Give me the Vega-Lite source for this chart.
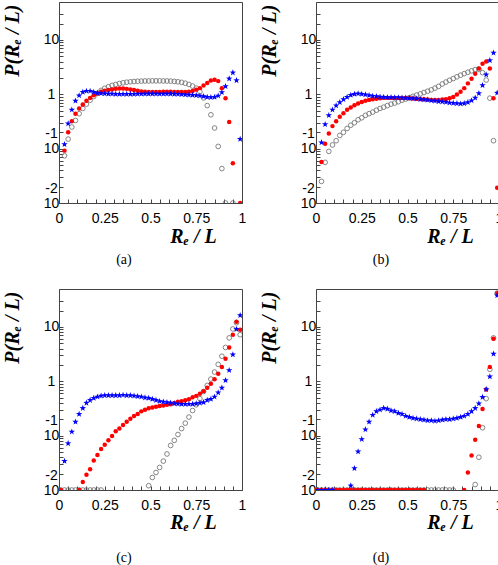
{
"$schema": "https://vega.github.io/schema/vega-lite/v6.json",
"padding": {"left": 1, "top": 1, "right": 0, "bottom": 0},
"columns": 2,
"spacing": {"column": 74, "row": 86},
"bounds": "flush",
"config": {
  "view": {"stroke": "#444", "strokeWidth": 1},
  "axis": {"labelFont": "Liberation Sans", "labelFontSize": 14, "labelColor": "#000", "domainColor": "#444", "tickColor": "#444", "grid": false,
    "titleFont": "Liberation Serif", "titleFontSize": 20, "titleFontWeight": "bold", "titleFontStyle": "italic", "titleColor": "#000",
    "labelOverlap": false, "labelFlush": false, "labelBound": false, "tickSize": -4},
  "title": {"font": "Liberation Serif", "fontSize": 14, "fontWeight": "normal", "color": "#000", "orient": "bottom", "anchor": "middle", "frame": "bounds"}
},
"datasets": {
"ag": [{"x":0.03,"p":0.074},{"x":0.05,"p":0.15},{"x":0.07,"p":0.25},{"x":0.09,"p":0.33},{"x":0.11,"p":0.44},{"x":0.13,"p":0.55},{"x":0.15,"p":0.66},{"x":0.17,"p":0.78},{"x":0.19,"p":0.91},{"x":0.21,"p":1.04},{"x":0.23,"p":1.18},{"x":0.25,"p":1.29},{"x":0.27,"p":1.38},{"x":0.29,"p":1.46},{"x":0.31,"p":1.52},{"x":0.33,"p":1.58},{"x":0.35,"p":1.63},{"x":0.37,"p":1.67},{"x":0.39,"p":1.7},{"x":0.41,"p":1.72},{"x":0.43,"p":1.74},{"x":0.45,"p":1.75},{"x":0.47,"p":1.76},{"x":0.49,"p":1.76},{"x":0.51,"p":1.77},{"x":0.53,"p":1.77},{"x":0.55,"p":1.77},{"x":0.57,"p":1.76},{"x":0.59,"p":1.76},{"x":0.61,"p":1.75},{"x":0.63,"p":1.73},{"x":0.65,"p":1.7},{"x":0.67,"p":1.66},{"x":0.69,"p":1.6},{"x":0.71,"p":1.52},{"x":0.73,"p":1.42},{"x":0.75,"p":1.3},{"x":0.77,"p":1.12},{"x":0.79,"p":0.86},{"x":0.81,"p":0.62},{"x":0.83,"p":0.42},{"x":0.85,"p":0.24},{"x":0.87,"p":0.11},{"x":0.89,"p":0.043},{"x":0.91,"p":0.01},{"x":0.95,"p":0.01}],
"ar": [{"x":0.03,"p":0.092},{"x":0.05,"p":0.2},{"x":0.07,"p":0.32},{"x":0.09,"p":0.44},{"x":0.11,"p":0.55},{"x":0.13,"p":0.65},{"x":0.15,"p":0.76},{"x":0.17,"p":0.86},{"x":0.19,"p":0.96},{"x":0.21,"p":1.04},{"x":0.23,"p":1.12},{"x":0.25,"p":1.17},{"x":0.27,"p":1.2},{"x":0.29,"p":1.23},{"x":0.31,"p":1.26},{"x":0.33,"p":1.28},{"x":0.35,"p":1.28},{"x":0.37,"p":1.26},{"x":0.39,"p":1.23},{"x":0.41,"p":1.2},{"x":0.43,"p":1.16},{"x":0.45,"p":1.13},{"x":0.47,"p":1.11},{"x":0.49,"p":1.1},{"x":0.51,"p":1.1},{"x":0.53,"p":1.1},{"x":0.55,"p":1.1},{"x":0.57,"p":1.11},{"x":0.59,"p":1.11},{"x":0.61,"p":1.11},{"x":0.63,"p":1.1},{"x":0.65,"p":1.1},{"x":0.67,"p":1.1},{"x":0.69,"p":1.1},{"x":0.71,"p":1.12},{"x":0.73,"p":1.15},{"x":0.75,"p":1.22},{"x":0.77,"p":1.3},{"x":0.79,"p":1.46},{"x":0.81,"p":1.61},{"x":0.83,"p":1.8},{"x":0.85,"p":1.85},{"x":0.87,"p":1.75},{"x":0.89,"p":1.3},{"x":0.91,"p":0.85},{"x":0.93,"p":0.31},{"x":0.95,"p":0.054},{"x":0.99,"p":0.01}],
"ab": [{"x":0.03,"p":0.12},{"x":0.05,"p":0.29},{"x":0.07,"p":0.52},{"x":0.09,"p":0.76},{"x":0.11,"p":0.95},{"x":0.13,"p":1.1},{"x":0.15,"p":1.15},{"x":0.17,"p":1.15},{"x":0.19,"p":1.1},{"x":0.21,"p":1.06},{"x":0.23,"p":1.04},{"x":0.25,"p":1.03},{"x":0.27,"p":1.02},{"x":0.29,"p":1.02},{"x":0.31,"p":1.01},{"x":0.33,"p":1.01},{"x":0.35,"p":1.01},{"x":0.37,"p":1.01},{"x":0.39,"p":1.01},{"x":0.41,"p":1.01},{"x":0.43,"p":1.02},{"x":0.45,"p":1.02},{"x":0.47,"p":1.02},{"x":0.49,"p":1.02},{"x":0.51,"p":1.02},{"x":0.53,"p":1.02},{"x":0.55,"p":1.02},{"x":0.57,"p":1.02},{"x":0.59,"p":1.02},{"x":0.61,"p":1.02},{"x":0.63,"p":1.01},{"x":0.65,"p":1.01},{"x":0.67,"p":1.0},{"x":0.69,"p":0.99},{"x":0.71,"p":0.98},{"x":0.73,"p":0.97},{"x":0.75,"p":0.96},{"x":0.77,"p":0.94},{"x":0.79,"p":0.92},{"x":0.81,"p":0.89},{"x":0.83,"p":0.88},{"x":0.85,"p":0.89},{"x":0.87,"p":0.94},{"x":0.89,"p":1.09},{"x":0.91,"p":1.4},{"x":0.93,"p":1.94},{"x":0.95,"p":2.5},{"x":0.97,"p":1.8},{"x":0.99,"p":0.15}],
"bg": [{"x":0.03,"p":0.025},{"x":0.05,"p":0.056},{"x":0.07,"p":0.089},{"x":0.09,"p":0.117},{"x":0.11,"p":0.14},{"x":0.13,"p":0.175},{"x":0.15,"p":0.2},{"x":0.17,"p":0.235},{"x":0.19,"p":0.27},{"x":0.21,"p":0.3},{"x":0.23,"p":0.34},{"x":0.25,"p":0.37},{"x":0.27,"p":0.41},{"x":0.29,"p":0.44},{"x":0.31,"p":0.47},{"x":0.33,"p":0.51},{"x":0.35,"p":0.55},{"x":0.37,"p":0.58},{"x":0.39,"p":0.62},{"x":0.41,"p":0.66},{"x":0.43,"p":0.69},{"x":0.45,"p":0.73},{"x":0.47,"p":0.78},{"x":0.49,"p":0.82},{"x":0.51,"p":0.87},{"x":0.53,"p":0.92},{"x":0.55,"p":0.97},{"x":0.57,"p":1.02},{"x":0.59,"p":1.08},{"x":0.61,"p":1.14},{"x":0.63,"p":1.21},{"x":0.65,"p":1.3},{"x":0.67,"p":1.4},{"x":0.69,"p":1.55},{"x":0.71,"p":1.68},{"x":0.73,"p":1.82},{"x":0.75,"p":1.95},{"x":0.77,"p":2.1},{"x":0.79,"p":2.25},{"x":0.81,"p":2.4},{"x":0.83,"p":2.55},{"x":0.85,"p":2.7},{"x":0.87,"p":2.85},{"x":0.89,"p":2.9},{"x":0.91,"p":2.5},{"x":0.93,"p":1.83},{"x":0.95,"p":0.85},{"x":0.97,"p":0.14}],
"br": [{"x":0.03,"p":0.057},{"x":0.05,"p":0.123},{"x":0.07,"p":0.19},{"x":0.09,"p":0.26},{"x":0.11,"p":0.32},{"x":0.13,"p":0.385},{"x":0.15,"p":0.45},{"x":0.17,"p":0.52},{"x":0.19,"p":0.57},{"x":0.21,"p":0.63},{"x":0.23,"p":0.68},{"x":0.25,"p":0.72},{"x":0.27,"p":0.76},{"x":0.29,"p":0.79},{"x":0.31,"p":0.81},{"x":0.33,"p":0.83},{"x":0.35,"p":0.85},{"x":0.37,"p":0.86},{"x":0.39,"p":0.86},{"x":0.41,"p":0.86},{"x":0.43,"p":0.86},{"x":0.45,"p":0.86},{"x":0.47,"p":0.86},{"x":0.49,"p":0.86},{"x":0.51,"p":0.85},{"x":0.53,"p":0.84},{"x":0.55,"p":0.83},{"x":0.57,"p":0.82},{"x":0.59,"p":0.81},{"x":0.61,"p":0.8},{"x":0.63,"p":0.79},{"x":0.65,"p":0.79},{"x":0.67,"p":0.79},{"x":0.69,"p":0.8},{"x":0.71,"p":0.81},{"x":0.73,"p":0.85},{"x":0.75,"p":0.89},{"x":0.77,"p":0.99},{"x":0.79,"p":1.12},{"x":0.81,"p":1.3},{"x":0.83,"p":1.59},{"x":0.85,"p":1.94},{"x":0.87,"p":2.4},{"x":0.89,"p":3.0},{"x":0.91,"p":3.65},{"x":0.93,"p":4.0},{"x":0.95,"p":3.0},{"x":0.97,"p":0.85},{"x":0.99,"p":0.019}],
"bb": [{"x":0.03,"p":0.13},{"x":0.05,"p":0.28},{"x":0.07,"p":0.41},{"x":0.09,"p":0.52},{"x":0.11,"p":0.62},{"x":0.13,"p":0.71},{"x":0.15,"p":0.81},{"x":0.17,"p":0.89},{"x":0.19,"p":0.97},{"x":0.21,"p":1.01},{"x":0.23,"p":1.03},{"x":0.25,"p":1.01},{"x":0.27,"p":0.99},{"x":0.29,"p":0.96},{"x":0.31,"p":0.93},{"x":0.33,"p":0.92},{"x":0.35,"p":0.9},{"x":0.37,"p":0.89},{"x":0.39,"p":0.88},{"x":0.41,"p":0.88},{"x":0.43,"p":0.87},{"x":0.45,"p":0.87},{"x":0.47,"p":0.86},{"x":0.49,"p":0.86},{"x":0.51,"p":0.85},{"x":0.53,"p":0.84},{"x":0.55,"p":0.83},{"x":0.57,"p":0.81},{"x":0.59,"p":0.8},{"x":0.61,"p":0.79},{"x":0.63,"p":0.77},{"x":0.65,"p":0.76},{"x":0.67,"p":0.74},{"x":0.69,"p":0.73},{"x":0.71,"p":0.72},{"x":0.73,"p":0.7},{"x":0.75,"p":0.69},{"x":0.77,"p":0.68},{"x":0.79,"p":0.67},{"x":0.81,"p":0.68},{"x":0.83,"p":0.71},{"x":0.85,"p":0.77},{"x":0.87,"p":0.86},{"x":0.89,"p":1.04},{"x":0.91,"p":1.46},{"x":0.93,"p":2.3},{"x":0.95,"p":4.2},{"x":0.97,"p":5.8},{"x":0.99,"p":1.06}],
"cg": [{"x":0.01,"p":0.01},{"x":0.03,"p":0.01},{"x":0.05,"p":0.01},{"x":0.07,"p":0.01},{"x":0.09,"p":0.01},{"x":0.11,"p":0.01},{"x":0.13,"p":0.01},{"x":0.15,"p":0.01},{"x":0.17,"p":0.01},{"x":0.19,"p":0.01},{"x":0.21,"p":0.01},{"x":0.23,"p":0.01},{"x":0.49,"p":0.012},{"x":0.51,"p":0.017},{"x":0.53,"p":0.021},{"x":0.55,"p":0.026},{"x":0.57,"p":0.034},{"x":0.59,"p":0.046},{"x":0.61,"p":0.066},{"x":0.63,"p":0.082},{"x":0.65,"p":0.105},{"x":0.67,"p":0.135},{"x":0.69,"p":0.17},{"x":0.71,"p":0.22},{"x":0.73,"p":0.29},{"x":0.75,"p":0.37},{"x":0.77,"p":0.48},{"x":0.79,"p":0.65},{"x":0.81,"p":0.84},{"x":0.83,"p":1.1},{"x":0.85,"p":1.48},{"x":0.87,"p":2.05},{"x":0.89,"p":2.9},{"x":0.91,"p":4.2},{"x":0.93,"p":6.3},{"x":0.95,"p":9.2},{"x":0.97,"p":12},{"x":0.99,"p":7.2}],
"cr": [{"x":0.01,"p":0.01},{"x":0.11,"p":0.01},{"x":0.13,"p":0.014},{"x":0.15,"p":0.019},{"x":0.17,"p":0.024},{"x":0.19,"p":0.035},{"x":0.21,"p":0.044},{"x":0.23,"p":0.057},{"x":0.25,"p":0.068},{"x":0.27,"p":0.082},{"x":0.29,"p":0.099},{"x":0.31,"p":0.12},{"x":0.33,"p":0.136},{"x":0.35,"p":0.157},{"x":0.37,"p":0.18},{"x":0.39,"p":0.205},{"x":0.41,"p":0.23},{"x":0.43,"p":0.25},{"x":0.45,"p":0.28},{"x":0.47,"p":0.3},{"x":0.49,"p":0.32},{"x":0.51,"p":0.33},{"x":0.53,"p":0.34},{"x":0.55,"p":0.35},{"x":0.57,"p":0.36},{"x":0.59,"p":0.37},{"x":0.61,"p":0.38},{"x":0.63,"p":0.4},{"x":0.65,"p":0.42},{"x":0.67,"p":0.43},{"x":0.69,"p":0.45},{"x":0.71,"p":0.47},{"x":0.73,"p":0.51},{"x":0.75,"p":0.54},{"x":0.77,"p":0.59},{"x":0.79,"p":0.66},{"x":0.81,"p":0.76},{"x":0.83,"p":0.9},{"x":0.85,"p":1.09},{"x":0.87,"p":1.38},{"x":0.89,"p":1.83},{"x":0.91,"p":2.6},{"x":0.93,"p":4.2},{"x":0.95,"p":7.2},{"x":0.97,"p":12.5},{"x":0.99,"p":8.9}],
"cb": [{"x":0.03,"p":0.034},{"x":0.05,"p":0.072},{"x":0.07,"p":0.118},{"x":0.09,"p":0.18},{"x":0.11,"p":0.25},{"x":0.13,"p":0.32},{"x":0.15,"p":0.4},{"x":0.17,"p":0.45},{"x":0.19,"p":0.49},{"x":0.21,"p":0.52},{"x":0.23,"p":0.54},{"x":0.25,"p":0.55},{"x":0.27,"p":0.55},{"x":0.29,"p":0.55},{"x":0.31,"p":0.55},{"x":0.33,"p":0.55},{"x":0.35,"p":0.56},{"x":0.37,"p":0.55},{"x":0.39,"p":0.55},{"x":0.41,"p":0.54},{"x":0.43,"p":0.53},{"x":0.45,"p":0.52},{"x":0.47,"p":0.5},{"x":0.49,"p":0.49},{"x":0.51,"p":0.47},{"x":0.53,"p":0.45},{"x":0.55,"p":0.43},{"x":0.57,"p":0.42},{"x":0.59,"p":0.41},{"x":0.61,"p":0.4},{"x":0.63,"p":0.39},{"x":0.65,"p":0.385},{"x":0.67,"p":0.38},{"x":0.69,"p":0.38},{"x":0.71,"p":0.38},{"x":0.73,"p":0.38},{"x":0.75,"p":0.39},{"x":0.77,"p":0.4},{"x":0.79,"p":0.41},{"x":0.81,"p":0.45},{"x":0.83,"p":0.47},{"x":0.85,"p":0.52},{"x":0.87,"p":0.62},{"x":0.89,"p":0.76},{"x":0.91,"p":1.04},{"x":0.93,"p":1.6},{"x":0.95,"p":3.1},{"x":0.97,"p":9.1},{"x":0.99,"p":16.4}],
"dg": [{"x":0.01,"p":0.01},{"x":0.03,"p":0.01},{"x":0.05,"p":0.01},{"x":0.07,"p":0.01},{"x":0.09,"p":0.01},{"x":0.11,"p":0.01},{"x":0.13,"p":0.01},{"x":0.15,"p":0.01},{"x":0.17,"p":0.01},{"x":0.19,"p":0.01},{"x":0.21,"p":0.01},{"x":0.23,"p":0.01},{"x":0.25,"p":0.01},{"x":0.27,"p":0.01},{"x":0.29,"p":0.01},{"x":0.31,"p":0.01},{"x":0.33,"p":0.01},{"x":0.35,"p":0.01},{"x":0.37,"p":0.01},{"x":0.39,"p":0.01},{"x":0.41,"p":0.01},{"x":0.43,"p":0.01},{"x":0.45,"p":0.01},{"x":0.47,"p":0.01},{"x":0.49,"p":0.01},{"x":0.51,"p":0.01},{"x":0.53,"p":0.01},{"x":0.55,"p":0.01},{"x":0.57,"p":0.01},{"x":0.59,"p":0.01},{"x":0.61,"p":0.01},{"x":0.63,"p":0.01},{"x":0.65,"p":0.01},{"x":0.67,"p":0.01},{"x":0.69,"p":0.01},{"x":0.71,"p":0.01},{"x":0.73,"p":0.01},{"x":0.75,"p":0.01},{"x":0.87,"p":0.0126},{"x":0.89,"p":0.04},{"x":0.91,"p":0.14},{"x":0.93,"p":0.48},{"x":0.95,"p":1.66},{"x":0.97,"p":6.3},{"x":0.99,"p":42}],
"dr": [{"x":0.01,"p":0.01},{"x":0.03,"p":0.01},{"x":0.05,"p":0.01},{"x":0.07,"p":0.01},{"x":0.09,"p":0.01},{"x":0.11,"p":0.01},{"x":0.13,"p":0.01},{"x":0.15,"p":0.01},{"x":0.17,"p":0.01},{"x":0.19,"p":0.01},{"x":0.21,"p":0.01},{"x":0.23,"p":0.01},{"x":0.25,"p":0.01},{"x":0.27,"p":0.01},{"x":0.29,"p":0.01},{"x":0.31,"p":0.01},{"x":0.33,"p":0.01},{"x":0.35,"p":0.01},{"x":0.37,"p":0.01},{"x":0.39,"p":0.01},{"x":0.41,"p":0.01},{"x":0.43,"p":0.01},{"x":0.45,"p":0.01},{"x":0.47,"p":0.01},{"x":0.49,"p":0.01},{"x":0.51,"p":0.01},{"x":0.53,"p":0.01},{"x":0.55,"p":0.01},{"x":0.57,"p":0.01},{"x":0.59,"p":0.01},{"x":0.81,"p":0.01},{"x":0.83,"p":0.021},{"x":0.85,"p":0.043},{"x":0.87,"p":0.084},{"x":0.89,"p":0.15},{"x":0.91,"p":0.31},{"x":0.93,"p":0.71},{"x":0.95,"p":1.83},{"x":0.97,"p":6.1},{"x":0.99,"p":42}],
"db": [{"x":0.01,"p":0.01},{"x":0.03,"p":0.01},{"x":0.05,"p":0.01},{"x":0.07,"p":0.01},{"x":0.09,"p":0.01},{"x":0.19,"p":0.012},{"x":0.21,"p":0.025},{"x":0.23,"p":0.051},{"x":0.25,"p":0.086},{"x":0.27,"p":0.13},{"x":0.29,"p":0.18},{"x":0.31,"p":0.24},{"x":0.33,"p":0.28},{"x":0.35,"p":0.3},{"x":0.37,"p":0.32},{"x":0.39,"p":0.31},{"x":0.41,"p":0.29},{"x":0.43,"p":0.28},{"x":0.45,"p":0.26},{"x":0.47,"p":0.25},{"x":0.49,"p":0.23},{"x":0.51,"p":0.22},{"x":0.53,"p":0.21},{"x":0.55,"p":0.205},{"x":0.57,"p":0.2},{"x":0.59,"p":0.195},{"x":0.61,"p":0.19},{"x":0.63,"p":0.19},{"x":0.65,"p":0.186},{"x":0.67,"p":0.19},{"x":0.69,"p":0.195},{"x":0.71,"p":0.2},{"x":0.73,"p":0.2},{"x":0.75,"p":0.205},{"x":0.77,"p":0.21},{"x":0.79,"p":0.22},{"x":0.81,"p":0.23},{"x":0.83,"p":0.25},{"x":0.85,"p":0.28},{"x":0.87,"p":0.32},{"x":0.89,"p":0.39},{"x":0.91,"p":0.51},{"x":0.93,"p":0.71},{"x":0.95,"p":1.22},{"x":0.97,"p":3.2},{"x":0.99,"p":38}]
},
"concat": [
{"width": 183, "height": 201, "title": {"text": "(a)", "offset": 7},
 "encoding": {
  "x": {"field": "x", "type": "quantitative", "scale": {"domain": [0, 1], "nice": false},
    "axis": {"values": [0,0.05,0.1,0.15,0.2,0.25,0.3,0.35,0.4,0.45,0.5,0.55,0.6,0.65,0.7,0.75,0.8,0.85,0.9,0.95,1],
      "labelExpr": "indexof([0,0.25,0.5,0.75,1],datum.value)>=0 ? toString(datum.value) : ''",
      "labelPadding": 12, "labelBaseline": "top", "labelAlign": "center",
      "title": "Rₑ / L", "titleX": 134, "titleY": 33, "titleAlign": "center", "titleBaseline": "middle"}},
  "y": {"field": "p", "type": "quantitative", "scale": {"type": "log", "domain": [0.01, 50], "nice": false},
    "axis": {"values": [0.01,0.02,0.03,0.04,0.05,0.06,0.07,0.08,0.09,0.1,0.2,0.3,0.4,0.5,0.6,0.7,0.8,0.9,1,2,3,4,5,6,7,8,9,10,20,30],
      "labelExpr": "datum.value==10?'10':datum.value==1?'1':datum.value==0.1?['-1','10']:datum.value==0.01?['-2','10']:''",
      "labelOffset": {"condition": {"test": "datum.value==0.1||datum.value==0.01", "value": -15}, "value": 0},
      "labelAlign": "center", "labelBaseline": "middle", "labelPadding": 12, "labelLineHeight": 15,
      "title": "P(Rₑ / L)", "titleX": -47, "titleY": 2, "titleAngle": -90, "titleAlign": "right", "titleBaseline": "middle"}}
 },
 "layer": [
  {"data": {"name": "ag"}, "mark": {"type": "point", "shape": "circle", "filled": false, "stroke": "#777", "strokeWidth": 0.9, "size": 22, "opacity": 1, "clip": true}},
  {"data": {"name": "ar"}, "mark": {"type": "point", "shape": "circle", "filled": true, "color": "#ff0000", "size": 20, "opacity": 1, "clip": true}},
  {"data": {"name": "ab"}, "mark": {"type": "point", "shape": "M0,-1L0.235,-0.324L0.951,-0.309L0.38,0.124L0.588,0.809L0,0.4L-0.588,0.809L-0.38,0.124L-0.951,-0.309L-0.235,-0.324Z", "filled": true, "color": "#0000ff", "size": 45, "opacity": 1, "clip": true}}
 ]
},
{"width": 183, "height": 201, "title": {"text": "(b)", "offset": 7},
 "encoding": {
  "x": {"field": "x", "type": "quantitative", "scale": {"domain": [0, 1], "nice": false},
    "axis": {"values": [0,0.05,0.1,0.15,0.2,0.25,0.3,0.35,0.4,0.45,0.5,0.55,0.6,0.65,0.7,0.75,0.8,0.85,0.9,0.95,1],
      "labelExpr": "indexof([0,0.25,0.5,0.75,1],datum.value)>=0 ? toString(datum.value) : ''",
      "labelPadding": 12, "labelBaseline": "top", "labelAlign": "center",
      "title": "Rₑ / L", "titleX": 134, "titleY": 33, "titleAlign": "center", "titleBaseline": "middle"}},
  "y": {"field": "p", "type": "quantitative", "scale": {"type": "log", "domain": [0.01, 50], "nice": false},
    "axis": {"values": [0.01,0.02,0.03,0.04,0.05,0.06,0.07,0.08,0.09,0.1,0.2,0.3,0.4,0.5,0.6,0.7,0.8,0.9,1,2,3,4,5,6,7,8,9,10,20,30],
      "labelExpr": "datum.value==10?'10':datum.value==1?'1':datum.value==0.1?['-1','10']:datum.value==0.01?['-2','10']:''",
      "labelOffset": {"condition": {"test": "datum.value==0.1||datum.value==0.01", "value": -15}, "value": 0},
      "labelAlign": "center", "labelBaseline": "middle", "labelPadding": 12, "labelLineHeight": 15,
      "title": "P(Rₑ / L)", "titleX": -47, "titleY": 2, "titleAngle": -90, "titleAlign": "right", "titleBaseline": "middle"}}
 },
 "layer": [
  {"data": {"name": "bg"}, "mark": {"type": "point", "shape": "circle", "filled": false, "stroke": "#777", "strokeWidth": 0.9, "size": 22, "opacity": 1, "clip": true}},
  {"data": {"name": "br"}, "mark": {"type": "point", "shape": "circle", "filled": true, "color": "#ff0000", "size": 20, "opacity": 1, "clip": true}},
  {"data": {"name": "bb"}, "mark": {"type": "point", "shape": "M0,-1L0.235,-0.324L0.951,-0.309L0.38,0.124L0.588,0.809L0,0.4L-0.588,0.809L-0.38,0.124L-0.951,-0.309L-0.235,-0.324Z", "filled": true, "color": "#0000ff", "size": 45, "opacity": 1, "clip": true}}
 ]
},
{"width": 183, "height": 201, "title": {"text": "(c)", "offset": 19},
 "encoding": {
  "x": {"field": "x", "type": "quantitative", "scale": {"domain": [0, 1], "nice": false},
    "axis": {"values": [0,0.05,0.1,0.15,0.2,0.25,0.3,0.35,0.4,0.45,0.5,0.55,0.6,0.65,0.7,0.75,0.8,0.85,0.9,0.95,1],
      "labelExpr": "indexof([0,0.25,0.5,0.75,1],datum.value)>=0 ? toString(datum.value) : ''",
      "labelPadding": 12, "labelBaseline": "top", "labelAlign": "center",
      "title": "Rₑ / L", "titleX": 134, "titleY": 32, "titleAlign": "center", "titleBaseline": "middle"}},
  "y": {"field": "p", "type": "quantitative", "scale": {"type": "log", "domain": [0.01, 50], "nice": false},
    "axis": {"values": [0.01,0.02,0.03,0.04,0.05,0.06,0.07,0.08,0.09,0.1,0.2,0.3,0.4,0.5,0.6,0.7,0.8,0.9,1,2,3,4,5,6,7,8,9,10,20,30],
      "labelExpr": "datum.value==10?'10':datum.value==1?'1':datum.value==0.1?['-1','10']:datum.value==0.01?['-2','10']:''",
      "labelOffset": {"condition": {"test": "datum.value==0.1||datum.value==0.01", "value": -15}, "value": 0},
      "labelAlign": "center", "labelBaseline": "middle", "labelPadding": 12, "labelLineHeight": 15,
      "title": "P(Rₑ / L)", "titleX": -47, "titleY": 2, "titleAngle": -90, "titleAlign": "right", "titleBaseline": "middle"}}
 },
 "layer": [
  {"data": {"name": "cg"}, "mark": {"type": "point", "shape": "circle", "filled": false, "stroke": "#777", "strokeWidth": 0.9, "size": 22, "opacity": 1, "clip": true}},
  {"data": {"name": "cr"}, "mark": {"type": "point", "shape": "circle", "filled": true, "color": "#ff0000", "size": 20, "opacity": 1, "clip": true}},
  {"data": {"name": "cb"}, "mark": {"type": "point", "shape": "M0,-1L0.235,-0.324L0.951,-0.309L0.38,0.124L0.588,0.809L0,0.4L-0.588,0.809L-0.38,0.124L-0.951,-0.309L-0.235,-0.324Z", "filled": true, "color": "#0000ff", "size": 45, "opacity": 1, "clip": true}}
 ]
},
{"width": 183, "height": 201, "title": {"text": "(d)", "offset": 19},
 "encoding": {
  "x": {"field": "x", "type": "quantitative", "scale": {"domain": [0, 1], "nice": false},
    "axis": {"values": [0,0.05,0.1,0.15,0.2,0.25,0.3,0.35,0.4,0.45,0.5,0.55,0.6,0.65,0.7,0.75,0.8,0.85,0.9,0.95,1],
      "labelExpr": "indexof([0,0.25,0.5,0.75,1],datum.value)>=0 ? toString(datum.value) : ''",
      "labelPadding": 12, "labelBaseline": "top", "labelAlign": "center",
      "title": "Rₑ / L", "titleX": 134, "titleY": 32, "titleAlign": "center", "titleBaseline": "middle"}},
  "y": {"field": "p", "type": "quantitative", "scale": {"type": "log", "domain": [0.01, 50], "nice": false},
    "axis": {"values": [0.01,0.02,0.03,0.04,0.05,0.06,0.07,0.08,0.09,0.1,0.2,0.3,0.4,0.5,0.6,0.7,0.8,0.9,1,2,3,4,5,6,7,8,9,10,20,30],
      "labelExpr": "datum.value==10?'10':datum.value==1?'1':datum.value==0.1?['-1','10']:datum.value==0.01?['-2','10']:''",
      "labelOffset": {"condition": {"test": "datum.value==0.1||datum.value==0.01", "value": -15}, "value": 0},
      "labelAlign": "center", "labelBaseline": "middle", "labelPadding": 12, "labelLineHeight": 15,
      "title": "P(Rₑ / L)", "titleX": -47, "titleY": 2, "titleAngle": -90, "titleAlign": "right", "titleBaseline": "middle"}}
 },
 "layer": [
  {"data": {"name": "dg"}, "mark": {"type": "point", "shape": "circle", "filled": false, "stroke": "#777", "strokeWidth": 0.9, "size": 22, "opacity": 1, "clip": true}},
  {"data": {"name": "dr"}, "mark": {"type": "point", "shape": "circle", "filled": true, "color": "#ff0000", "size": 20, "opacity": 1, "clip": true}},
  {"data": {"name": "db"}, "mark": {"type": "point", "shape": "M0,-1L0.235,-0.324L0.951,-0.309L0.38,0.124L0.588,0.809L0,0.4L-0.588,0.809L-0.38,0.124L-0.951,-0.309L-0.235,-0.324Z", "filled": true, "color": "#0000ff", "size": 45, "opacity": 1, "clip": true}}
 ]
}
]
}
